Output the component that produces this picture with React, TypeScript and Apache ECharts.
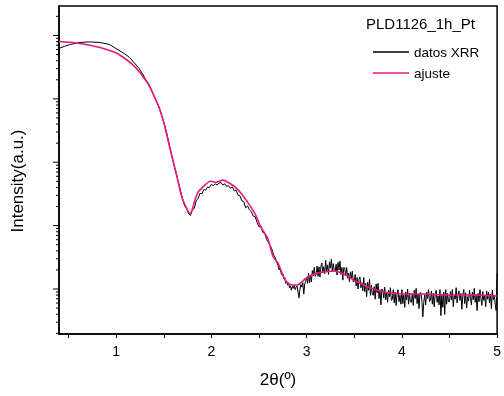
import { useEffect, useRef } from "react";
import * as echarts from "echarts";

// Axis ticks and labels
const xTickLabels = [1, 2, 3, 4, 5];
const xTicks = [0.5, 1, 1.5, 2, 2.5, 3, 3.5, 4, 4.5, 5];
const yMajorTicks = [10, 100, 1000, 10000, 100000];
const yMinorTicks = [
  2, 3, 4, 5, 6, 7, 8, 9,
  20, 30, 40, 50, 60, 70, 80, 90,
  200, 300, 400, 500, 600, 700, 800, 900,
  2000, 3000, 4000, 5000, 6000, 7000, 8000, 9000,
  20000, 30000, 40000, 50000, 60000, 70000, 80000, 90000,
  200000,
];

// Fit curve: [2θ, log10(intensity)]
const ajusteLog10: [number, number][] = [
  [0.40, 4.906], [0.62, 4.874], [0.83, 4.811], [0.93, 4.764], [1.03, 4.70], [1.17, 4.543],
  [1.24, 4.433], [1.31, 4.291], [1.35, 4.197], [1.40, 4.039], [1.45, 3.866], [1.50, 3.63],
  [1.52, 3.504], [1.57, 3.189], [1.64, 2.764], [1.69, 2.449], [1.74, 2.276], [1.77, 2.197],
  [1.79, 2.213], [1.82, 2.37], [1.86, 2.528], [1.92, 2.622], [1.99, 2.701], [2.05, 2.685],
  [2.12, 2.717], [2.19, 2.669], [2.25, 2.606], [2.32, 2.496], [2.38, 2.37], [2.46, 2.181],
  [2.52, 1.976], [2.59, 1.803], [2.65, 1.504], [2.70, 1.409], [2.75, 1.22], [2.80, 1.094],
  [2.85, 1.063], [2.90, 1.063], [2.96, 1.126], [3.01, 1.189], [3.11, 1.252], [3.18, 1.268],
  [3.29, 1.283], [3.39, 1.236], [3.53, 1.11], [3.70, 1.0], [3.87, 0.937], [4.05, 0.921],
  [4.22, 0.921], [4.46, 0.906], [4.72, 0.906], [5.00, 0.89],
];

// Measured XRR data: [2θ, log10(intensity)]
const datosXrrLog10: [number, number][] = [
  [0.40, 4.795], [0.46, 4.83], [0.52, 4.858], [0.62, 4.89], [0.72, 4.898], [0.83, 4.89],
  [0.93, 4.858], [1.03, 4.764], [1.09, 4.71], [1.14, 4.654], [1.19, 4.57], [1.24, 4.48],
  [1.28, 4.39], [1.31, 4.307], [1.35, 4.213],
  [1.40, 4.04], [1.45, 3.87], [1.50, 3.63], [1.53, 3.47], [1.57, 3.19], [1.60, 3.00],
  [1.64, 2.77], [1.67, 2.58],
  [1.70, 2.41], [1.72, 2.31], [1.74, 2.27], [1.76, 2.19], [1.78, 2.16], [1.80, 2.25],
  [1.82, 2.27], [1.84, 2.39], [1.86, 2.43], [1.88, 2.51], [1.90, 2.50], [1.92, 2.57],
  [1.94, 2.56], [1.96, 2.61], [1.98, 2.60], [2.00, 2.65], [2.02, 2.63], [2.04, 2.66],
  [2.06, 2.64], [2.08, 2.67], [2.10, 2.68], [2.12, 2.64], [2.14, 2.66], [2.16, 2.62],
  [2.18, 2.63], [2.20, 2.59], [2.22, 2.61], [2.24, 2.55], [2.26, 2.56], [2.28, 2.48],
  [2.30, 2.47], [2.32, 2.39], [2.34, 2.38], [2.36, 2.28], [2.38, 2.31], [2.40, 2.25],
  [2.42, 2.22], [2.44, 2.15], [2.46, 2.14], [2.48, 2.05], [2.50, 1.98], [2.52, 1.99],
  [2.54, 1.89], [2.56, 1.88], [2.58, 1.78],
  [2.60, 1.73], [2.61, 1.70], [2.62, 1.68], [2.63, 1.65], [2.64, 1.61], [2.65, 1.55], [2.66, 1.52], [2.67, 1.50], [2.68, 1.44], [2.69, 1.41],
  [2.70, 1.37], [2.71, 1.30], [2.72, 1.33], [2.73, 1.26], [2.74, 1.22], [2.75, 1.24], [2.76, 1.16], [2.77, 1.18], [2.78, 1.09], [2.79, 1.12],
  [2.80, 1.06], [2.81, 1.10], [2.82, 1.02], [2.83, 1.05], [2.84, 0.98], [2.85, 1.04], [2.86, 1.01], [2.87, 1.06], [2.88, 0.99], [2.89, 1.03],
  [2.90, 1.05], [2.91, 0.95], [2.92, 0.86], [2.93, 1.00], [2.94, 1.07], [2.95, 1.03], [2.96, 1.10], [2.97, 0.92], [2.98, 1.08], [2.99, 1.12],
  [3.00, 1.19], [3.01, 1.09], [3.02, 1.25], [3.03, 1.10], [3.04, 1.22], [3.05, 1.11], [3.06, 1.29], [3.07, 1.21], [3.08, 1.34], [3.09, 1.20],
  [3.10, 1.23], [3.11, 1.36], [3.12, 1.20], [3.13, 1.35], [3.14, 1.19], [3.15, 1.36], [3.16, 1.41], [3.17, 1.26], [3.18, 1.35], [3.19, 1.24],
  [3.20, 1.45], [3.21, 1.27], [3.22, 1.38], [3.23, 1.23], [3.24, 1.43], [3.25, 1.33], [3.26, 1.47], [3.27, 1.27], [3.28, 1.40], [3.29, 1.29],
  [3.30, 1.28], [3.31, 1.39], [3.32, 1.22], [3.33, 1.42], [3.34, 1.30], [3.35, 1.44], [3.36, 1.23], [3.37, 1.34], [3.38, 1.14], [3.39, 1.34],
  [3.40, 1.33], [3.41, 1.21], [3.42, 1.34], [3.43, 1.17], [3.44, 1.25], [3.45, 1.11], [3.46, 1.27], [3.47, 1.17], [3.48, 1.28], [3.49, 1.11],
  [3.50, 1.12], [3.51, 1.23], [3.52, 1.05], [3.53, 1.18], [3.54, 1.00], [3.55, 1.15], [3.56, 1.19], [3.57, 1.02], [3.58, 1.10], [3.59, 0.97],
  [3.60, 1.18], [3.61, 0.96], [3.62, 1.09], [3.63, 0.88], [3.64, 1.11], [3.65, 0.98], [3.66, 1.15], [3.67, 0.90], [3.68, 1.06], [3.69, 0.92],
  [3.70, 0.90], [3.71, 1.04], [3.72, 0.84], [3.73, 1.08], [3.74, 0.94], [3.75, 1.09], [3.76, 0.85], [3.77, 0.99], [3.78, 0.75], [3.79, 1.00],
  [3.80, 0.99], [3.81, 0.86], [3.82, 1.03], [3.83, 0.83], [3.84, 0.95], [3.85, 0.79], [3.86, 0.98], [3.87, 0.88], [3.88, 1.02], [3.89, 0.82],
  [3.90, 0.84], [3.91, 0.99], [3.92, 0.78], [3.93, 0.95], [3.94, 0.74], [3.95, 0.93], [3.96, 0.99], [3.97, 0.80], [3.98, 0.90], [3.99, 0.76],
  [4.00, 0.99], [4.01, 0.77], [4.02, 0.91], [4.03, 0.71], [4.04, 0.95], [4.05, 0.83], [4.06, 1.00], [4.07, 0.76], [4.08, 0.93], [4.09, 0.80],
  [4.10, 0.79], [4.11, 0.93], [4.12, 0.74], [4.13, 0.98], [4.14, 0.85], [4.15, 1.01], [4.16, 0.77], [4.17, 0.92], [4.18, 0.69], [4.19, 0.94],
  [4.20, 0.94], [4.21, 0.81], [4.22, 0.56], [4.23, 0.79], [4.24, 0.91], [4.25, 0.75], [4.26, 0.95], [4.27, 0.85], [4.28, 0.99], [4.29, 0.80],
  [4.30, 0.82], [4.31, 0.97], [4.32, 0.76], [4.33, 0.93], [4.34, 0.72], [4.35, 0.92], [4.36, 0.98], [4.37, 0.79], [4.38, 0.89], [4.39, 0.75],
  [4.40, 0.99], [4.41, 0.58], [4.42, 0.91], [4.43, 0.71], [4.44, 0.95], [4.45, 0.60], [4.46, 0.99], [4.47, 0.76], [4.48, 0.93], [4.49, 0.80],
  [4.50, 0.80], [4.51, 0.96], [4.52, 0.83], [4.53, 0.99], [4.54, 0.72], [4.55, 0.90], [4.56, 0.84], [4.57, 1.02], [4.58, 0.78], [4.59, 0.92],
  [4.60, 0.97], [4.61, 0.82], [4.62, 0.93], [4.63, 0.68], [4.64, 0.90], [4.65, 0.99], [4.66, 0.77], [4.67, 0.94], [4.68, 0.70], [4.69, 0.88],
  [4.70, 0.81], [4.71, 0.98], [4.72, 0.86], [4.73, 0.75], [4.74, 0.95], [4.75, 0.83], [4.76, 1.01], [4.77, 0.79], [4.78, 0.91], [4.79, 0.66],
  [4.80, 0.93], [4.81, 0.80], [4.82, 0.99], [4.83, 0.85], [4.84, 0.74], [4.85, 0.96], [4.86, 0.82], [4.87, 0.90], [4.88, 0.72], [4.89, 0.97],
  [4.90, 0.84], [4.91, 0.95], [4.92, 0.78], [4.93, 0.92], [4.94, 0.69], [4.95, 0.98], [4.96, 0.83], [4.97, 0.90], [4.98, 0.76], [4.99, 0.66],
  [5.00, 1.25],
];

const toIntensity = (pts: [number, number][]) => pts.map(([x, l]) => [x, Math.pow(10, l)]);

export default function App() {
  const ref = useRef<HTMLDivElement>(null);
  useEffect(() => {
    const chart = echarts.init(ref.current!, null, { renderer: "svg" });
    const font = "'Liberation Sans', Arial, sans-serif";
    const tickData = [
      ...yMajorTicks.map((v) => [0.4, v, 6]),
      ...yMinorTicks.map((v) => [0.4, v, 3]),
    ];
    const lineIcon = "path://M0,0H36V1.4H0Z";
    chart.setOption({
      animation: false,
      textStyle: { fontFamily: font, color: "#000" },
      title: {
        text: "PLD1126_1h_Pt",
        left: 361,
        top: 11,
        textStyle: { fontSize: 15, fontWeight: "normal", color: "#000", fontFamily: font },
      },
      legend: {
        left: 368,
        top: 40,
        orient: "vertical",
        itemWidth: 36,
        itemHeight: 14,
        itemGap: 7,
        symbolKeepAspect: true,
        textStyle: { fontSize: 13.5, color: "#000", fontFamily: font },
        data: [
          { name: "datos XRR", icon: lineIcon },
          { name: "ajuste", icon: lineIcon },
        ],
      },
      grid: {
        left: 59,
        right: 2,
        top: 6,
        bottom: 62,
        show: true,
        borderColor: "#000",
        borderWidth: 1.5,
      },
      graphic: [
        {
          type: "text",
          x: 17,
          y: 181,
          rotation: Math.PI / 2,
          style: {
            text: "Intensity(a.u.)",
            font: "17px 'Liberation Sans', Arial, sans-serif",
            fill: "#000",
            align: "center",
            verticalAlign: "middle",
          },
        },
      ],
      xAxis: {
        type: "value",
        min: 0.4,
        max: 5,
        name: "2θ(º)",
        nameLocation: "middle",
        nameGap: 37,
        nameTextStyle: { fontSize: 17, color: "#000", fontFamily: font },
        axisLine: { lineStyle: { color: "#000", width: 1.5 } },
        axisTick: { customValues: xTicks, length: 4, lineStyle: { color: "#000", width: 1 } },
        axisLabel: { customValues: xTickLabels, fontSize: 14, color: "#000", margin: 10, fontFamily: font },
        splitLine: { show: false },
      },
      yAxis: {
        type: "log",
        logBase: 10,
        min: 1.95,
        max: 291700,
        axisLine: { show: true, lineStyle: { color: "#000", width: 1.5 } },
        axisTick: { show: false },
        axisLabel: { show: false },
        splitLine: { show: false },
      },
      series: [
        {
          type: "custom",
          silent: true,
          clip: false,
          data: tickData,
          renderItem: (_params: any, api: any) => {
            const p = api.coord([api.value(0), api.value(1)]);
            const len = api.value(2);
            return {
              type: "line",
              shape: { x1: p[0] - len, y1: p[1], x2: p[0], y2: p[1] },
              style: { stroke: "#000", lineWidth: 1 },
            };
          },
          z: 10,
        },
        {
          name: "datos XRR",
          type: "line",
          data: toIntensity(datosXrrLog10),
          symbol: "none",
          showSymbol: false,
          color: "#000",
          lineStyle: { color: "#000", width: 1 },
          z: 2,
        },
        {
          name: "ajuste",
          type: "line",
          data: toIntensity(ajusteLog10),
          symbol: "none",
          showSymbol: false,
          smooth: 0.3,
          color: "#e8177d",
          lineStyle: { color: "#e8177d", width: 1.6 },
          z: 3,
        },
      ],
    });
    return () => chart.dispose();
  }, []);
  return (
    <div
      ref={ref}
      style={{ position: "fixed", left: 0, top: 0, width: 504, height: 396 }}
    />
  );
}
